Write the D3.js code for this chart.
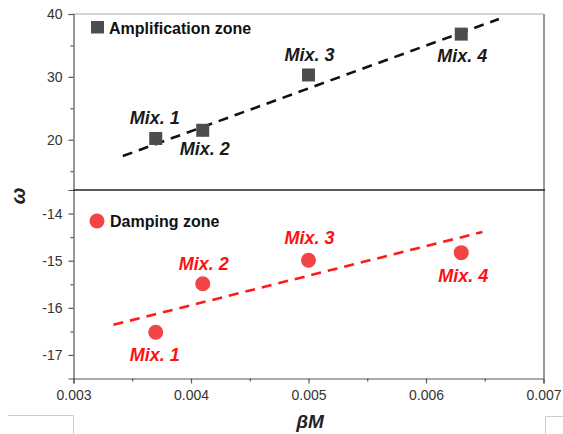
<!DOCTYPE html>
<html><head><meta charset="utf-8">
<script src="https://cdn.jsdelivr.net/npm/d3@7"></script>
<style>body{margin:0;background:#fff}svg{display:block}</style>
</head><body>
<script>
// ---- data ----
const mixes = ["Mix. 1", "Mix. 2", "Mix. 3", "Mix. 4"];
const betaM = [0.0037, 0.0041, 0.0050, 0.0063];
const ampOmega = [20.2, 21.5, 30.3, 36.8];
const dampOmega = [-16.52, -15.49, -14.99, -14.83];
const ampFitX = [0.00342, 0.00662];
const ampFitY = [17.4, 39.2];
const dampFitX = [0.00334, 0.00648];
const dampFitY = [-16.36, -14.39];
const xTicks = [0.003, 0.004, 0.005, 0.006, 0.007];
const xMinor = [0.0035, 0.0045, 0.0055, 0.0065];
const ampTicks = [20, 30, 40];
const ampMinor = [15, 25, 35];
const dampTicks = [-17, -16, -15, -14];
const dampMinor = [-16.5, -15.5, -14.5];
const legendLabels = ["Amplification zone", "Damping zone"];
const axisLabels = ["βM", "ω"];
// label offsets (dx, dy of baseline relative to point)
const ampLabelOff = [[-1, -14], [2, 25], [1, -14], [1, 28]];
const dampLabelOff = [[-1, 29], [1, -14], [1, -16], [2, 29]];

const W = 563, H = 434;
const L = 73.5, R = 543.5, T = 14, MID = 190, B = 378.5;
const svg = d3.select("body").append("svg").attr("width", W).attr("height", H);

const x = d3.scaleLinear().domain([0.003, 0.007]).range([L, R]);
const yA = d3.scaleLinear().domain([12, 40]).range([MID, T]);
const yD = d3.scaleLinear().domain([-17.5, -13.5]).range([B, MID]);

const font = "'Liberation Sans', Arial, sans-serif";
const axisCol = "#555";

// borders
svg.append("line").attr("x1", L).attr("x2", R).attr("y1", T).attr("y2", T).attr("stroke", "#aaa").attr("stroke-width", 1.2);
svg.append("line").attr("x1", R + 0.5).attr("x2", R + 0.5).attr("y1", T).attr("y2", B).attr("stroke", "#999").attr("stroke-width", 2);

// axes
function styleAxis(g) {
  g.select(".domain").attr("stroke", axisCol).attr("stroke-width", 1.2);
  g.selectAll(".tick line").attr("stroke", axisCol).attr("stroke-width", 1.2);
  g.selectAll(".tick text").attr("fill", "#333").style("font-family", font).style("font-size", "14px");
}
const xa = svg.append("g").attr("transform", `translate(0,${B})`)
  .call(d3.axisBottom(x).tickValues(xTicks).tickFormat(d3.format(".3f")).tickSizeOuter(0).tickSize(5).tickPadding(7));
styleAxis(xa);
const xm = svg.append("g").attr("transform", `translate(0,${B})`)
  .call(d3.axisBottom(x).tickValues(xMinor).tickFormat("").tickSizeOuter(0).tickSize(3));
styleAxis(xm); xm.select(".domain").remove();

const ya = svg.append("g").attr("transform", `translate(${L},0)`)
  .call(d3.axisLeft(yA).tickValues(ampTicks).tickFormat(d => String(d)).tickSizeOuter(0).tickSize(5).tickPadding(6));
styleAxis(ya);
const yam = svg.append("g").attr("transform", `translate(${L},0)`)
  .call(d3.axisLeft(yA).tickValues(ampMinor).tickFormat("").tickSizeOuter(0).tickSize(3));
styleAxis(yam); yam.select(".domain").remove();

const yd = svg.append("g").attr("transform", `translate(${L},0)`)
  .call(d3.axisLeft(yD).tickValues(dampTicks).tickFormat(d => String(d)).tickSizeOuter(0).tickSize(5).tickPadding(6));
styleAxis(yd);
const ydm = svg.append("g").attr("transform", `translate(${L},0)`)
  .call(d3.axisLeft(yD).tickValues(dampMinor).tickFormat("").tickSizeOuter(0).tickSize(3));
styleAxis(ydm); ydm.select(".domain").remove();

// divider
svg.append("line").attr("x1", L).attr("x2", R + 1.5).attr("y1", MID).attr("y2", MID).attr("stroke", "#222").attr("stroke-width", 1.6);

// fit lines
const ln = (ys) => d3.line().x(d => x(d[0])).y(d => ys(d[1]));
svg.append("path").datum(ampFitX.map((v, i) => [v, ampFitY[i]]))
  .attr("d", ln(yA)).attr("fill", "none").attr("stroke", "#111").attr("stroke-width", 2.6).attr("stroke-dasharray", "10,7");
svg.append("path").datum(dampFitX.map((v, i) => [v, dampFitY[i]]))
  .attr("d", ln(yD)).attr("fill", "none").attr("stroke", "#ff1a1a").attr("stroke-width", 2.6).attr("stroke-dasharray", "10,7");

// points
const sq = 13;
svg.selectAll("rect.pt").data(betaM).join("rect").attr("class", "pt")
  .attr("x", (d) => x(d) - sq / 2).attr("y", (d, i) => yA(ampOmega[i]) - sq / 2)
  .attr("width", sq).attr("height", sq).attr("fill", "#4d4d4d");
svg.selectAll("circle.pt").data(betaM).join("circle").attr("class", "pt")
  .attr("cx", d => x(d)).attr("cy", (d, i) => yD(dampOmega[i])).attr("r", 7.5).attr("fill", "#f24444");

// labels
svg.selectAll("text.al").data(mixes).join("text").attr("class", "al")
  .attr("x", (d, i) => x(betaM[i]) + ampLabelOff[i][0]).attr("y", (d, i) => yA(ampOmega[i]) + ampLabelOff[i][1])
  .attr("text-anchor", "middle").style("font-family", font).style("font-size", "18px")
  .style("font-weight", "bold").style("font-style", "italic").attr("fill", "#1a1a1a").text(d => d);
svg.selectAll("text.dl").data(mixes).join("text").attr("class", "dl")
  .attr("x", (d, i) => x(betaM[i]) + dampLabelOff[i][0]).attr("y", (d, i) => yD(dampOmega[i]) + dampLabelOff[i][1])
  .attr("text-anchor", "middle").style("font-family", font).style("font-size", "18px")
  .style("font-weight", "bold").style("font-style", "italic").attr("fill", "#ff1010").text(d => d);

// legends
svg.append("rect").attr("x", 91).attr("y", 21).attr("width", 13).attr("height", 12.5).attr("fill", "#4d4d4d");
svg.append("text").attr("x", 109).attr("y", 34).style("font-family", font).style("font-size", "16px")
  .style("font-weight", "bold").attr("fill", "#111").text(legendLabels[0]);
svg.append("circle").attr("cx", 97).attr("cy", 221).attr("r", 7.5).attr("fill", "#f24444");
svg.append("text").attr("x", 110).attr("y", 227).style("font-family", font).style("font-size", "16px")
  .style("font-weight", "bold").attr("fill", "#111").text(legendLabels[1]);

// axis titles
svg.append("text").attr("x", 310).attr("y", 428).attr("text-anchor", "middle").style("font-family", font)
  .style("font-size", "19px").style("font-weight", "bold").style("font-style", "italic").attr("fill", "#222").text(axisLabels[0]);
svg.append("text").attr("transform", "translate(25,196) rotate(-90)").attr("text-anchor", "middle").style("font-family", font)
  .style("font-size", "20px").style("font-weight", "bold").style("font-style", "italic").attr("fill", "#222").text(axisLabels[1]);

// crop artifacts (faint frame corners)
svg.append("path").attr("d", "M8,415.5 H73.5 V434").attr("fill", "none").attr("stroke", "#ccc").attr("stroke-width", 1);
svg.append("path").attr("d", "M545.5,434 V416.5 H563").attr("fill", "none").attr("stroke", "#ccc").attr("stroke-width", 1);
</script>
</body></html>
